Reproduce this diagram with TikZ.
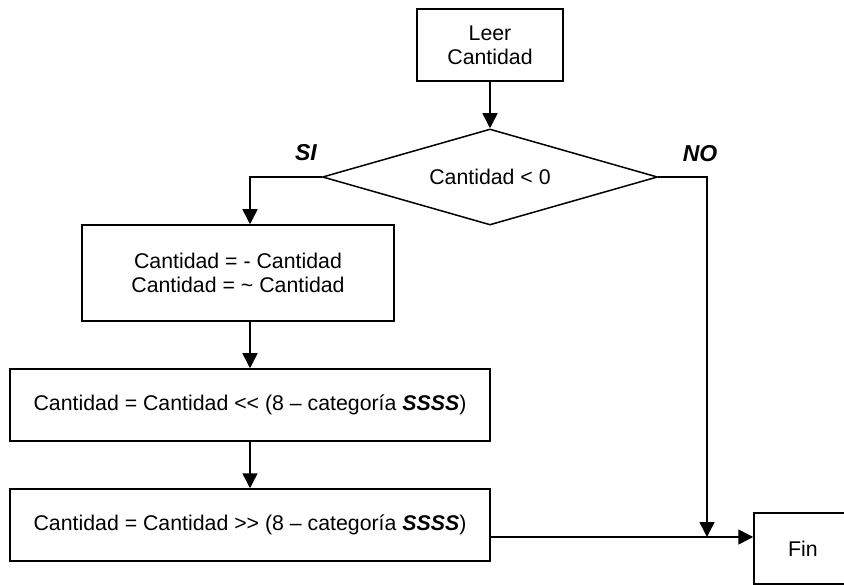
\documentclass[tikz,border=0pt]{standalone}
\usepackage{fontspec}
\setmainfont{Liberation Sans}
\usetikzlibrary{shapes.geometric,arrows.meta}

\tikzset{
  caja/.style={draw,line width=1.5pt,minimum height=72pt,inner sep=0pt,align=center},
  decision/.style={draw,diamond,aspect=3.49,line width=1.5pt,minimum width=335pt,minimum height=96pt,inner sep=0pt},
  flecha/.style={line width=1.5pt,-{Triangle[length=15pt,width=15pt]}},
  etiqueta/.style={font=\fontsize{23}{27}\selectfont\bfseries\itshape}
}

\begin{document}
\begin{tikzpicture}[x=1pt,y=-1pt,font=\fontsize{21.3}{24}\selectfont]
\useasboundingbox (0,0) rectangle (844,585);
\node[caja,minimum width=146pt] (leer) at (490,45) {Leer\\Cantidad};
\node[decision] (cond) at (490,177) {Cantidad < 0};
\node[caja,minimum width=312pt,minimum height=96pt] (neg) at (238,273)
  {Cantidad = - Cantidad\\Cantidad = \textasciitilde{} Cantidad};
\node[caja,minimum width=480pt] (shl) at (250,405)
  {Cantidad = Cantidad <\kern0pt< (8 – categoría \textbf{\textit{SSSS}})};
\node[caja,minimum width=480pt] (shr) at (250,525)
  {Cantidad = Cantidad >\kern0pt> (8 – categoría \textbf{\textit{SSSS}})};
\node[caja,minimum width=98pt,minimum height=71pt] (fin) at (803,548.5) {Fin};

\coordinate (si) at (250,177);
\coordinate (no) at (707,177);
\coordinate (junta) at (707,537);

\draw[flecha] (leer) -- (cond);
\draw[flecha] (cond.west) -- (si) -- (si |- neg.north);
\draw[flecha] (si |- neg.south) -- (shl);
\draw[flecha] (shl) -- (shr);
\draw[flecha] (cond.east) -- (no) -- (junta);
\draw[flecha] (shr.east |- junta) -- (fin.west |- junta);

\node[etiqueta] (lsi) at (306,153) {SI};
\node[etiqueta] (lno) at (700,154) {NO};
\end{tikzpicture}
\end{document}
